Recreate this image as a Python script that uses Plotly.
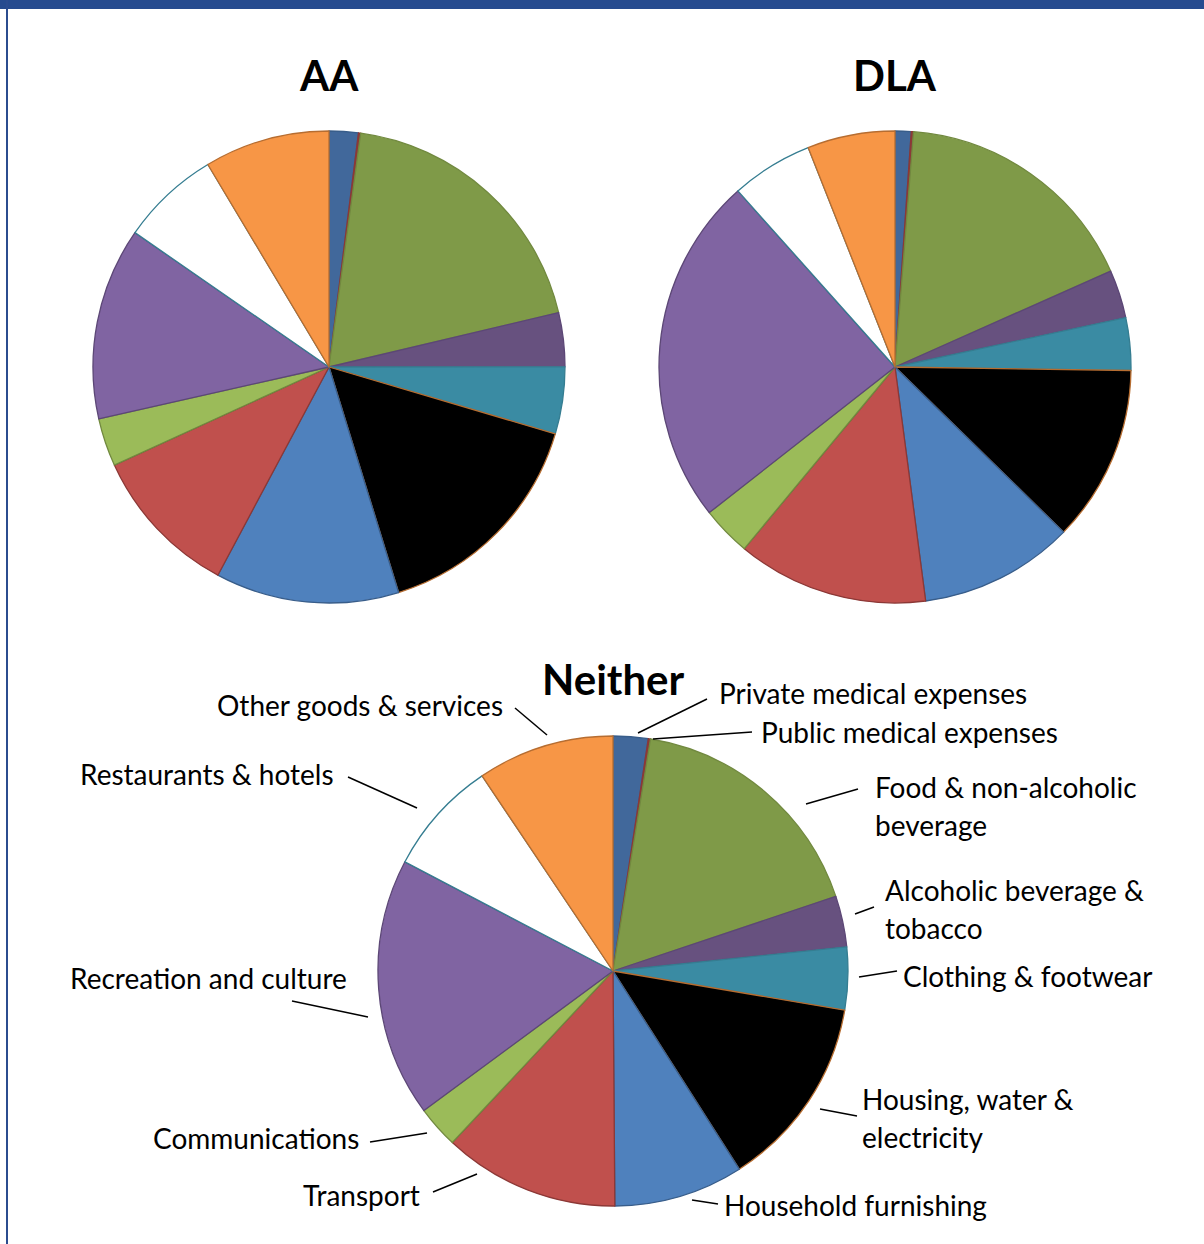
import plotly.graph_objects as go

# Household expenditure shares (%) by category, for each group
categories = [
    "Private medical expenses",
    "Public medical expenses",
    "Food & non-alcoholic beverage",
    "Alcoholic beverage & tobacco",
    "Clothing & footwear",
    "Housing, water & electricity",
    "Household furnishing",
    "Transport",
    "Communications",
    "Recreation and culture",
    "Restaurants & hotels",
    "Other goods & services",
]
aa_values = [2.0, 0.15, 19.2, 3.7, 4.6, 15.7, 12.6, 10.4, 3.3, 13.2, 6.8, 8.6]
dla_values = [1.1, 0.15, 17.1, 3.3, 3.6, 12.1, 10.6, 13.1, 3.4, 24.0, 5.6, 6.0]
neither_values = [2.4, 0.15, 17.3, 3.5, 4.3, 13.3, 8.9, 12.1, 2.9, 17.8, 7.9, 9.4]

fill_colors = [
    "#41689B", "#8B3A3A", "#7F9A48", "#67517F", "#3A8BA3", "#000000",
    "#4F81BD", "#C0504D", "#9BBB59", "#8064A2", "#FFFFFF", "#F79646",
]
edge_colors = [
    "#385D8A", "#8C3836", "#71893F", "#5C4776", "#357D91", "#B66D31",
    "#385D8A", "#8C3836", "#71893F", "#5C4776", "#357D91", "#B66D31",
]

W, H = 1204, 1244
FONT = "Lato"


def px_x(v):
    return v / W


def px_y(v):
    return 1 - v / H


def pie_domain(cx, cy, r):
    return dict(x=[px_x(cx - r), px_x(cx + r)], y=[px_y(cy + r), px_y(cy - r)])


def make_pie(values, name, domain):
    return go.Pie(
        labels=categories,
        values=values,
        name=name,
        sort=False,
        direction="clockwise",
        rotation=0,
        textinfo="none",
        hoverinfo="label+percent",
        showlegend=False,
        domain=domain,
        marker=dict(colors=fill_colors, line=dict(color=edge_colors, width=1.3)),
    )


fig = go.Figure()
fig.add_trace(make_pie(aa_values, "AA", pie_domain(329, 367, 236)))
fig.add_trace(make_pie(dla_values, "DLA", pie_domain(895, 367, 236)))
fig.add_trace(make_pie(neither_values, "Neither", pie_domain(613, 971, 235)))

# Titles above each pie
titles = [("AA", 329, 75), ("DLA", 895, 75), ("Neither", 613, 679)]
annotations = []
for text, x, y in titles:
    annotations.append(dict(
        text=f"<b>{text}</b>", x=px_x(x), y=px_y(y), xref="paper", yref="paper",
        xanchor="center", yanchor="middle", showarrow=False,
        font=dict(family=FONT, size=42, color="#000000"),
    ))

# Category labels around the "Neither" pie: (lines, x, first-line y, anchor)
LINE_STEP = 38
TEXT_PAD = 3  # annotation box padding to compensate for
label_layout = [
    (["Other goods & services"], 502, 705, "right"),
    (["Restaurants & hotels"], 333, 774, "right"),
    (["Recreation and culture"], 346, 978, "right"),
    (["Communications"], 358, 1138, "right"),
    (["Transport"], 419, 1195, "right"),
    (["Household furnishing"], 725, 1205, "left"),
    (["Housing, water &", "electricity"], 863, 1099, "left"),
    (["Food & non-alcoholic", "beverage"], 876, 787, "left"),
    (["Alcoholic beverage &", "tobacco"], 886, 890, "left"),
    (["Clothing & footwear"], 904, 976, "left"),
    (["Private medical expenses"], 720, 693, "left"),
    (["Public medical expenses"], 762, 732, "left"),
]
for lines, x, y, anchor in label_layout:
    xa = x - TEXT_PAD if anchor == "left" else x + TEXT_PAD
    for i, line in enumerate(lines):
        annotations.append(dict(
            text=line, x=px_x(xa), y=px_y(y + i * LINE_STEP),
            xref="paper", yref="paper",
            xanchor=anchor, yanchor="middle", showarrow=False,
            font=dict(family=FONT, size=28, color="#000000"),
        ))

# Leader lines from labels to the pie rim
leaders = [
    (515, 708, 547, 735),
    (348, 777, 417, 808),
    (292, 1001, 368, 1017),
    (370, 1142, 427, 1133),
    (433, 1192, 477, 1174),
    (692, 1200, 718, 1204),
    (820, 1109, 857, 1116),
    (806, 804, 858, 789),
    (855, 914, 874, 907),
    (859, 977, 897, 971),
    (638, 733, 707, 699),
    (653, 739, 752, 732),
]
shapes = []
for x0, y0, x1, y1 in leaders:
    shapes.append(dict(
        type="line", xref="paper", yref="paper",
        x0=px_x(x0), y0=px_y(y0), x1=px_x(x1), y1=px_y(y1),
        line=dict(color="#000000", width=1.5),
    ))

# Frame: top band and left rule
shapes.append(dict(type="rect", xref="paper", yref="paper",
                   x0=0, x1=1, y0=px_y(9), y1=1,
                   fillcolor="#264B8F", line=dict(width=0)))
shapes.append(dict(type="rect", xref="paper", yref="paper",
                   x0=px_x(6), x1=px_x(8), y0=0, y1=1,
                   fillcolor="#2B4C8F", line=dict(width=0)))

fig.update_layout(
    width=W, height=H,
    margin=dict(l=0, r=0, t=0, b=0),
    paper_bgcolor="#FFFFFF",
    plot_bgcolor="#FFFFFF",
    annotations=annotations,
    shapes=shapes,
)

fig.write_html("out.html")
